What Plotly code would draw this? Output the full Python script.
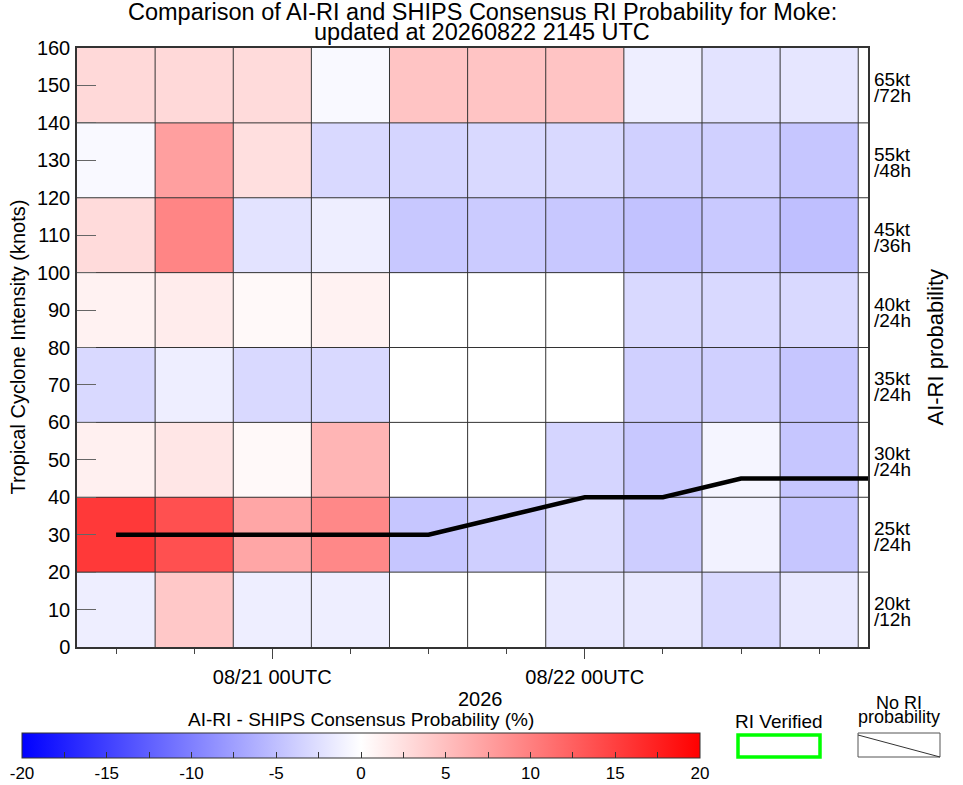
import pandas as pd
import plotly.graph_objects as go

# 6-hourly columns, intensity bins of 20 kt
col_times = pd.date_range("2026-08-20 12:00", periods=10, freq="6h")
row_edges = [0, 20, 40, 60, 80, 100, 120, 140, 160]
row_kt = ["20kt", "25kt", "30kt", "35kt", "40kt", "45kt", "55kt", "65kt"]
row_hr = ["/12h", "/24h", "/24h", "/24h", "/24h", "/36h", "/48h", "/72h"]

# AI-RI minus SHIPS consensus probability (%), rows from bottom (0-20 kt) to top
prob_diff = [
    [-1.3, 4.3, -1.3, -1.3, 0.0, 0.0, -1.8, -1.8, -3.0, -1.8],
    [15.5, 13.7, 7.0, 9.3, -4.5, -3.8, -2.7, -3.9, -1.0, -4.5],
    [1.2, 2.0, 0.5, 5.8, 0.0, 0.0, -3.3, -4.3, -0.8, -4.5],
    [-3.0, -1.3, -3.0, -3.0, 0.0, 0.0, 0.0, -3.7, -3.7, -4.5],
    [1.0, 1.5, 0.5, 1.0, 0.0, 0.0, 0.0, -3.0, -3.0, -3.0],
    [2.8, 9.6, -2.2, -1.3, -4.3, -4.1, -4.3, -4.8, -4.2, -5.0],
    [-0.5, 7.5, 2.5, -3.0, -3.3, -3.0, -3.0, -3.7, -3.7, -4.5],
    [3.0, 3.0, 2.8, -0.5, 4.6, 4.6, 4.6, -1.3, -2.2, -2.0],
]

# best-track intensity (kt)
track_times = pd.date_range("2026-08-20 12:00", periods=11, freq="6h")
track_vmax = [30, 30, 30, 30, 30, 35, 40, 40, 45, 45, 45]

update_time = pd.Timestamp("2026-08-22 21:45")

FONT = "Liberation Sans, Arial, sans-serif"

# plot area in pixels: left 77, right 868, top 48, bottom 647
def xp(px):
    return (px - 77) / 791.0

def yp(py):
    return (647 - py) / 599.0

half = pd.Timedelta(hours=3)
x_start = col_times[0] - half
row_mid = [(a + b) / 2 for a, b in zip(row_edges[:-1], row_edges[1:])]

fig = go.Figure()

bwr = [[0.0, "rgb(0,0,255)"], [0.5, "rgb(255,255,255)"], [1.0, "rgb(255,0,0)"]]
cb_ticks = [v / 2 for v in range(-40, 41, 5)]
cb_text = [str(int(v)) if v % 5 == 0 else "" for v in cb_ticks]

fig.add_trace(go.Heatmap(
    x=col_times, y=row_mid, z=prob_diff,
    zmin=-20, zmax=20, colorscale=bwr,
    colorbar=dict(
        orientation="h", x=xp(22), xanchor="left", y=yp(733), yanchor="top",
        len=678, lenmode="pixels", thickness=25, thicknessmode="pixels",
        xpad=0, ypad=0, outlinewidth=1, outlinecolor="#333",
        tickvals=cb_ticks, ticktext=cb_text, ticks="inside", ticklen=6,
        tickcolor="#333", tickfont=dict(size=17, family=FONT, color="black"),
    ),
    hoverinfo="skip",
))

# cell borders
gx, gy = [], []
for e in row_edges[1:-1]:
    gx += [x_start, update_time, None]
    gy += [e, e, None]
for t in list(col_times[1:] - half) + [col_times[-1] + half]:
    gx += [t, t, None]
    gy += [row_edges[0], row_edges[-1], None]
fig.add_trace(go.Scatter(x=gx, y=gy, mode="lines", line=dict(color="#333", width=1),
                         hoverinfo="skip", showlegend=False))

fig.add_trace(go.Scatter(x=track_times, y=track_vmax, mode="lines",
                         line=dict(color="black", width=4.5), showlegend=False))

fig.update_xaxes(
    type="date", range=[x_start, update_time],
    tickformat="%m/%d %HUTC", dtick=86400000, tick0="2026-08-21",
    ticks="outside", ticklen=10, tickcolor="#444", ticklabelstandoff=1,
    tickfont=dict(size=20, family=FONT, color="black"),
    minor=dict(dtick=6 * 3600000, ticks="outside", ticklen=5, tickcolor="#444"),
    showgrid=False, showline=True, mirror=True, linecolor="#333", linewidth=1.5,
)
fig.update_yaxes(
    range=[0, 160], dtick=10, ticks="inside", ticklen=19, tickcolor="#666",
    tickfont=dict(size=20, family=FONT, color="black"), ticklabelstandoff=1,
    showgrid=False, zeroline=False, showline=True, mirror=True,
    linecolor="#333", linewidth=1.5,
)

ann = []
for y, kt, hr in zip(row_mid, row_kt, row_hr):
    ann.append(dict(x=1, xref="paper", y=y, yref="y", xanchor="left", xshift=4, yshift=6,
                    text=kt, showarrow=False, font=dict(size=19)))
    ann.append(dict(x=1, xref="paper", y=y, yref="y", xanchor="left", xshift=4, yshift=-10,
                    text=hr, showarrow=False, font=dict(size=19)))

ann += [
    dict(x=xp(482), y=yp(12), text="Comparison of AI-RI and SHIPS Consensus RI Probability for Moke:",
         font=dict(size=23.5)),
    dict(x=xp(482), y=yp(32), text="updated at 20260822 2145 UTC", font=dict(size=23.5)),
    dict(x=xp(17), y=0.5, text="Tropical Cyclone Intensity (knots)", textangle=-90,
         font=dict(size=20)),
    dict(x=xp(935), y=0.5, text="AI-RI probability", textangle=-90, font=dict(size=22)),
    dict(x=xp(480), y=yp(699), text="2026", font=dict(size=20)),
    dict(x=xp(361), y=yp(719), text="AI-RI - SHIPS Consensus Probability (%)", font=dict(size=19)),
    dict(x=xp(779), y=yp(721), text="RI Verified", font=dict(size=19)),
    dict(x=xp(899), y=yp(703), text="No RI", font=dict(size=18)),
    dict(x=xp(899), y=yp(717), text="probability", font=dict(size=18)),
]
for a in ann:
    a.setdefault("xref", "paper")
    a.setdefault("yref", "paper")
    a.setdefault("showarrow", False)
    a.setdefault("xanchor", "center")
    a.setdefault("yanchor", "middle")
    a["font"].update(family=FONT, color="black")

shapes = [
    dict(type="rect", xref="paper", yref="paper", x0=xp(738), x1=xp(820), y0=yp(757), y1=yp(735),
         line=dict(color="#00FF00", width=3.5)),
    dict(type="rect", xref="paper", yref="paper", x0=xp(858), x1=xp(940), y0=yp(757), y1=yp(733),
         line=dict(color="#555", width=1)),
    dict(type="line", xref="paper", yref="paper", x0=xp(858), x1=xp(940), y0=yp(735), y1=yp(757),
         line=dict(color="#333", width=1)),
]

fig.update_layout(
    width=963, height=785,
    margin=dict(l=77, r=95, t=48, b=138, autoexpand=False),
    paper_bgcolor="white", plot_bgcolor="white",
    font=dict(family=FONT, color="black"),
    annotations=ann, shapes=shapes, showlegend=False,
)

# page body margin off so the figure sits at the window's corner
fig.write_html("out.html", config={"displayModeBar": False},
               post_script="document.body.style.margin = '0px';")
